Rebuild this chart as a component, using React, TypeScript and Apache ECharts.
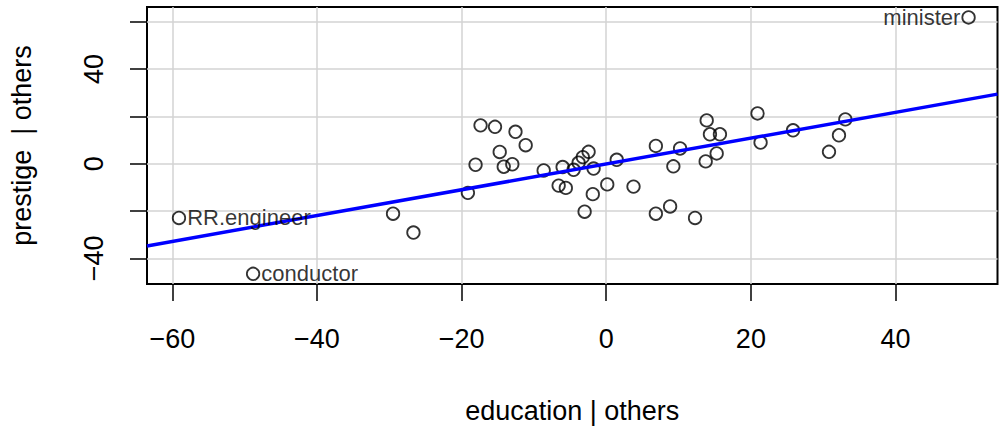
import { useEffect, useRef } from "react";
import * as echarts from "echarts";

// education | others (x) and prestige | others (y) residuals
const educationResid = [
  -59.08, -48.83, -29.48, -26.66, -19.13, -18.07, -17.38, -15.38, -14.73, -14.17,
  -12.99, -12.55, -11.14, -8.65, -6.58, -6.03, -5.59, -4.51, -3.82, -3.24,
  -2.44, -1.75, -1.86, -2.99, 0.14, 1.45, 3.77, 6.86, 6.86, 8.83,
  9.28, 10.21, 12.28, 13.75, 13.89, 14.34, 15.27, 15.72, 20.92, 21.34,
  25.83, 30.8, 32.18, 33.06, 50.1,
];
const prestigeResid = [
  -22.9, -46.5, -21.1, -29.07, -12.3, -0.43, 16.21, 15.58, 4.98, -1.27,
  -0.22, 13.49, 7.83, -2.86, -9.24, -1.4, -10.2, -2.57, 0.41, 2.8,
  5.02, -2.03, -12.84, -20.26, -8.73, 1.66, -9.66, -21.1, 7.53, -18.04,
  -1.1, 6.44, -22.9, 0.99, 18.31, 12.44, 4.35, 12.44, 21.25, 8.96,
  14.12, 5.02, 12.02, 18.73, 61.8,
];
// labelled points: index, name, side
const labelledNames = ["RR.engineer", "conductor", "minister"];
const labelledIndex = [0, 1, 44];
const labelledSide = ["right", "right", "left"];

const xTicks = [-60, -40, -20, 0, 20, 40];
const yTicks = [-40, -20, 0, 20, 40, 60];
const yTickLabels = [-40, 0, 40];
const xLimits = [-63.5, 54.1];
const yLimits = [-50.8, 66.2];
const xTitle = "education | others";
const yTitle = "prestige  | others";

const FONT = "Liberation Sans, Arial, Helvetica, sans-serif";
const minus = (v: number) => String(v).replace("-", "\u2212");

function fitLine(xs: number[], ys: number[]) {
  const n = xs.length;
  const mx = xs.reduce((s, v) => s + v, 0) / n;
  const my = ys.reduce((s, v) => s + v, 0) / n;
  let sxy = 0;
  let sxx = 0;
  for (let i = 0; i < n; i++) {
    sxy += (xs[i] - mx) * (ys[i] - my);
    sxx += (xs[i] - mx) * (xs[i] - mx);
  }
  const b = sxy / sxx;
  return { a: my - b * mx, b };
}

export default function App() {
  const ref = useRef<HTMLDivElement>(null);
  useEffect(() => {
    if (!ref.current) return;
    const chart = echarts.init(ref.current, undefined, { renderer: "svg" });
    const fit = fitLine(educationResid, prestigeResid);
    const pts = educationResid.map((x, i) => [x, prestigeResid[i]]);
    const labelPts = labelledIndex.map((idx, k) => ({
      name: labelledNames[k],
      value: [educationResid[idx], prestigeResid[idx]],
      label: {
        show: true,
        position: labelledSide[k],
        distance: 2,
        formatter: "{b}",
        fontSize: 22,
        color: "#000",
        fontFamily: FONT,
      },
    }));
    const lineData = xLimits.map((x) => [x, fit.a + fit.b * x]);
    chart.setOption({
      animation: false,
      backgroundColor: "#ffffff",
      textStyle: { fontFamily: FONT },
      grid: {
        left: 146,
        right: 1.5,
        top: 7,
        bottom: 143,
        show: true,
        borderColor: "#000",
        borderWidth: 2,
        backgroundColor: "transparent",
        containLabel: false,
      },
      xAxis: {
        type: "value",
        min: xLimits[0],
        max: xLimits[1],
        name: xTitle,
        nameLocation: "middle",
        nameGap: 113,
        nameTextStyle: { fontSize: 27, lineHeight: 27, color: "#000", fontFamily: FONT },
        axisLine: { show: false, onZero: false },
        axisTick: {
          show: true,
          customValues: xTicks,
          length: 17,
          lineStyle: { color: "#000", width: 1.5 },
        },
        axisLabel: {
          customValues: xTicks,
          formatter: minus,
          margin: 41,
          fontSize: 27,
          lineHeight: 27,
          color: "#000",
          fontFamily: FONT,
        },
        splitLine: { show: true, lineStyle: { color: "#D3D3D3", width: 1.5 } },
      },
      yAxis: {
        type: "value",
        min: yLimits[0],
        max: yLimits[1],
        name: yTitle,
        nameLocation: "middle",
        nameGap: 112,
        nameTextStyle: { fontSize: 27, lineHeight: 27, color: "#000", fontFamily: FONT },
        axisLine: { show: false, onZero: false },
        axisTick: {
          show: true,
          customValues: yTicks,
          length: 17,
          lineStyle: { color: "#000", width: 1.5 },
        },
        axisLabel: {
          customValues: yTickLabels,
          formatter: minus,
          rotate: 90,
          margin: 40,
          fontSize: 27,
          lineHeight: 27,
          color: "#000",
          fontFamily: FONT,
        },
        splitLine: { show: true, lineStyle: { color: "#D3D3D3", width: 1.5 } },
      },
      series: [
        {
          type: "scatter",
          data: pts,
          symbol: "circle",
          symbolSize: 12.5,
          itemStyle: { color: "rgba(0,0,0,0)", borderColor: "#000", borderWidth: 1.8 },
          z: 2,
        },
        {
          type: "line",
          data: lineData,
          showSymbol: false,
          symbol: "none",
          lineStyle: { color: "#0000FF", width: 3.5 },
          clip: true,
          z: 3,
        },
        {
          type: "scatter",
          data: labelPts,
          symbol: "circle",
          symbolSize: 12.5,
          itemStyle: { color: "rgba(0,0,0,0)", borderColor: "rgba(0,0,0,0)", borderWidth: 0 },
          z: 4,
          silent: true,
        },
      ],
    });
    return () => chart.dispose();
  }, []);
  return (
    <div
      ref={ref}
      style={{ position: "absolute", left: 0, top: 0, width: 999, height: 429, background: "#fff" }}
    />
  );
}
